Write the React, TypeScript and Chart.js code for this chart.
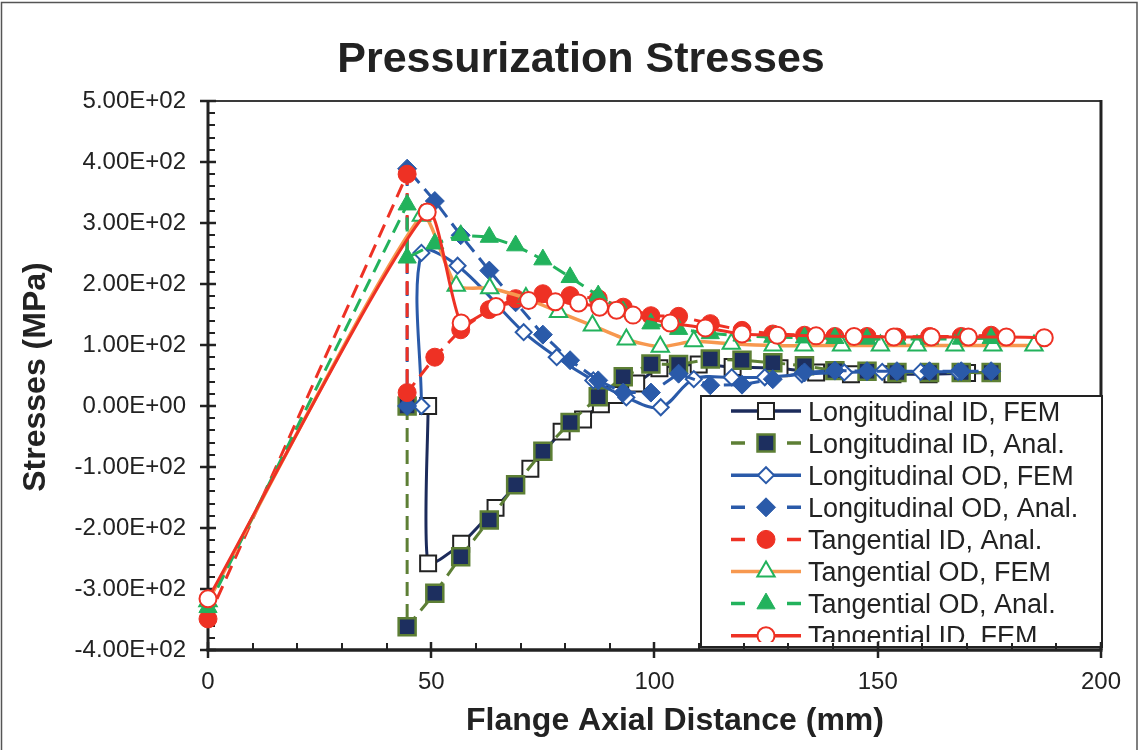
import React, { useEffect, useRef } from 'react';
import { Chart, registerables } from 'chart.js';

Chart.register(...registerables);

const FONT = '"Liberation Sans", Arial, Helvetica, sans-serif';

// Axis ranges (mm, MPa)
const xMin = 0;
const xMax = 200;
const xStep = 50;
const xMinorStep = 10;
const yMin = -400;
const yMax = 500;
const yStep = 100;
const yMinorStep = 20;

// Longitudinal ID, FEM
const longIdFemX = [49.3, 49.3, 56.7, 64.4, 72.2, 79.2, 84.0, 88.0, 91.0, 95.9, 101.1, 109.9, 117.5, 128.0, 136.2, 144.0, 153.3, 161.4, 170.0, 175.5];
const longIdFemY = [0, -258, -226, -167, -103, -42, -22, 3, 18, 37, 62, 68, 64, 62, 55, 52, 52, 52, 54, 55];

// Longitudinal ID, Anal.
const longIdAnaX = [44.6, 44.6, 50.8, 56.6, 63.0, 68.9, 75.0, 81.1, 87.4, 93.0, 99.2, 105.4, 112.5, 119.6, 126.5, 133.6, 140.4, 147.6, 154.3, 161.6, 168.7, 175.4];
const longIdAnaY = [0, -362, -307, -247, -187, -129, -74, -27, 15, 48, 69, 68, 77, 75, 71, 66, 58, 57, 55, 55, 55, 55];

// Longitudinal OD, FEM
const longOdFemX = [47.8, 47.8, 55.9, 70.7, 78.1, 86.3, 93.7, 101.4, 108.8, 117.3, 124.7, 133.0, 142.5, 151.0, 159.6, 168.0];
const longOdFemY = [0, 251, 230, 121, 80, 42, 14, -2, 44, 47, 47, 52, 55, 56, 56, 56];

// Longitudinal OD, Anal.
const longOdAnaX = [44.6, 44.6, 50.8, 56.6, 63.0, 68.9, 75.0, 81.1, 87.4, 93.0, 99.2, 105.4, 112.5, 119.6, 126.5, 133.6, 140.4, 147.6, 154.3, 161.6, 168.7, 175.4];
const longOdAnaY = [0, 389, 336, 280, 222, 170, 117, 75, 42, 22, 22, 53, 34, 35, 44, 55, 58, 57, 57, 57, 57, 57];

// Tangential ID, Anal.
const tangIdAnaX = [0, 44.6, 44.6, 50.8, 56.6, 63.0, 68.9, 75.0, 81.1, 87.4, 93.0, 99.2, 105.4, 112.5, 119.6, 126.5, 133.6, 140.4, 147.6, 154.3, 161.6, 168.7, 175.4];
const tangIdAnaY = [-349, 380, 22, 80, 125, 158, 176, 184, 181, 176, 162, 148, 147, 135, 124, 118, 116, 114, 114, 113, 114, 114, 116];

// Tangential OD, FEM
const tangOdFemX = [0, 47.8, 55.6, 63.1, 71.2, 78.5, 86.1, 93.7, 101.3, 108.8, 117.2, 126.6, 133.5, 141.9, 150.6, 158.8, 167.3, 175.8, 185.0];
const tangOdFemY = [-320, 312, 197, 193, 177, 154, 132, 109, 97, 106, 102, 99, 99, 99, 99, 99, 99, 99, 99];

// Tangential OD, Anal.
const tangOdAnaX = [0, 44.6, 44.6, 50.8, 56.6, 63.0, 68.9, 75.0, 81.1, 87.4, 93.0, 99.2, 105.4, 112.5, 119.6, 126.5, 133.6, 140.4, 147.6, 154.3, 161.6, 168.7, 175.4];
const tangOdAnaY = [-330, 330, 243, 266, 280, 277, 263, 240, 211, 181, 155, 135, 126, 119, 115, 113, 112, 111, 110, 110, 110, 110, 111];

// Tangential ID, FEM
const tangIdFemX = [0, 49.1, 56.7, 64.5, 71.8, 77.8, 83.0, 87.7, 91.5, 95.2, 103.5, 111.4, 119.6, 127.5, 136.2, 144.7, 153.6, 162.0, 170.3, 178.8, 187.3];
const tangIdFemY = [-316, 318, 136, 163, 173, 171, 169, 162, 157, 149, 136, 128, 118, 116, 115, 114, 113, 113, 113, 113, 112];

const NAVY = '#1c2b5b';
const NAVY_FILL = '#1d2f5f';
const OLIVE = '#5d7f35';
const BLUE = '#2a5aa9';
const RED = '#ee3124';
const ORANGE = '#f7984f';
const GREEN = '#22b25c';
const INK = '#222222';
const DASH = [14, 8];

const pts = (xs: number[], ys: number[]) => xs.map((x, i) => ({ x, y: ys[i] }));

const sci = (v: number) => {
  const [m, e] = v.toExponential(2).split('e');
  const n = parseInt(e, 10);
  return `${m}E${n < 0 ? '-' : '+'}${String(Math.abs(n)).padStart(2, '0')}`;
};

type Marker = 'circle' | 'rect' | 'rectRot' | 'triangle';

function drawMarker(
  ctx: CanvasRenderingContext2D,
  style: Marker,
  x: number,
  y: number,
  r: number,
  fill: string,
  stroke: string,
  lw: number
) {
  ctx.beginPath();
  if (style === 'circle') {
    ctx.arc(x, y, r, 0, Math.PI * 2);
  } else if (style === 'rect') {
    const s = r * Math.SQRT1_2;
    ctx.rect(x - s, y - s, 2 * s, 2 * s);
  } else if (style === 'rectRot') {
    ctx.moveTo(x - r, y);
    ctx.lineTo(x, y - r);
    ctx.lineTo(x + r, y);
    ctx.lineTo(x, y + r);
    ctx.closePath();
  } else {
    ctx.moveTo(x, y - r);
    ctx.lineTo(x + 0.866 * r, y + 0.5 * r);
    ctx.lineTo(x - 0.866 * r, y + 0.5 * r);
    ctx.closePath();
  }
  ctx.fillStyle = fill;
  ctx.fill();
  ctx.lineWidth = lw;
  ctx.strokeStyle = stroke;
  ctx.stroke();
}

const frame = {
  id: 'frame',
  beforeDraw(chart: any) {
    const { ctx, width, height } = chart;
    ctx.save();
    ctx.fillStyle = '#ffffff';
    ctx.fillRect(0, 0, width, height);
    ctx.restore();
  },
  beforeDatasetsDraw(chart: any) {
    const { ctx, chartArea: a, scales } = chart;
    const ys = scales.y;
    ctx.save();
    ctx.lineCap = 'butt';
    // plot area: top and right edges
    ctx.strokeStyle = '#3a3a3a';
    ctx.lineWidth = 2;
    ctx.beginPath();
    ctx.moveTo(a.left, a.top);
    ctx.lineTo(a.right, a.top);
    ctx.stroke();
    ctx.strokeStyle = INK;
    ctx.lineWidth = 3;
    ctx.beginPath();
    ctx.moveTo(a.right, a.top - 1);
    ctx.lineTo(a.right, a.bottom);
    ctx.stroke();
    // y axis line with ticks
    ctx.beginPath();
    ctx.moveTo(a.left, a.top - 1);
    ctx.lineTo(a.left, a.bottom);
    ctx.stroke();
    for (let v = yMin; v <= yMax; v += yMinorStep) {
      const py = Math.round(ys.getPixelForValue(v));
      const major = v % yStep === 0;
      ctx.lineWidth = major ? 2.5 : 2;
      ctx.beginPath();
      ctx.moveTo(major ? a.left - 8 : a.left, py);
      ctx.lineTo(a.left + (major ? 8 : 7), py);
      ctx.stroke();
    }
    ctx.restore();
  },
  afterDatasetsDraw(chart: any) {
    const { ctx, chartArea: a, scales } = chart;
    const xs = scales.x;

    // legend
    const box = { l: 701, t: 396, r: 1102, b: 647 };
    ctx.save();
    ctx.fillStyle = '#ffffff';
    ctx.fillRect(box.l, box.t, box.r - box.l, box.b - box.t);
    ctx.save();
    ctx.beginPath();
    ctx.rect(box.l, box.t, box.r - box.l, 246);
    ctx.clip();
    chart.data.datasets.forEach((ds: any, i: number) => {
      const cy = 411 + i * 32.1;
      ctx.strokeStyle = ds.borderColor;
      ctx.lineWidth = 3.5;
      ctx.setLineDash([]);
      ctx.beginPath();
      if (ds.borderDash && ds.borderDash.length) {
        ctx.moveTo(731, cy);
        ctx.lineTo(745, cy);
        ctx.moveTo(787, cy);
        ctx.lineTo(801, cy);
      } else {
        ctx.moveTo(731, cy);
        ctx.lineTo(801, cy);
      }
      ctx.stroke();
      drawMarker(ctx, ds.pointStyle, 766, cy, ds.pointRadius, ds.pointBackgroundColor, ds.pointBorderColor, ds.pointBorderWidth);
      ctx.fillStyle = INK;
      ctx.font = `27px ${FONT}`;
      ctx.textAlign = 'left';
      ctx.textBaseline = 'alphabetic';
      ctx.fillText(ds.label, 808, cy + 9.5);
    });
    ctx.restore();
    ctx.strokeStyle = INK;
    ctx.lineWidth = 2;
    ctx.strokeRect(box.l, box.t, box.r - box.l, box.b - box.t);

    // x axis line with ticks
    ctx.strokeStyle = INK;
    ctx.lineWidth = 3.5;
    ctx.beginPath();
    ctx.moveTo(a.left - 1.5, a.bottom);
    ctx.lineTo(a.right + 1.5, a.bottom);
    ctx.stroke();
    for (let v = xMin; v <= xMax; v += xMinorStep) {
      const px = Math.round(xs.getPixelForValue(v));
      const major = v % xStep === 0;
      ctx.lineWidth = major ? 2.5 : 2;
      ctx.beginPath();
      ctx.moveTo(px, a.bottom - (major ? 8 : 7));
      ctx.lineTo(px, major ? a.bottom + 8 : a.bottom);
      ctx.stroke();
    }
    ctx.restore();
  },
  afterDraw(chart: any) {
    const { ctx, width } = chart;
    ctx.save();
    ctx.fillStyle = INK;
    ctx.textAlign = 'center';
    ctx.textBaseline = 'alphabetic';
    ctx.font = `bold 43px ${FONT}`;
    ctx.fillText('Pressurization Stresses', 581, 72);
    ctx.font = `bold 32px ${FONT}`;
    ctx.fillText('Flange Axial Distance (mm)', 675, 730);
    ctx.save();
    ctx.translate(45, 377);
    ctx.rotate(-Math.PI / 2);
    ctx.fillText('Stresses (MPa)', 0, 0);
    ctx.restore();
    // outer frame
    ctx.strokeStyle = '#555555';
    ctx.lineWidth = 1.5;
    ctx.strokeRect(1.5, 2.5, width - 3.5, 800);
    ctx.restore();
  },
};

export default function App() {
  const canvasRef = useRef<HTMLCanvasElement | null>(null);

  useEffect(() => {
    const canvas = canvasRef.current;
    if (!canvas) return;

    const common = { clip: false as any, fill: false };

    const datasets = [
      {
        ...common,
        label: 'Longitudinal ID, FEM',
        data: pts(longIdFemX, longIdFemY),
        borderColor: NAVY,
        borderWidth: 3,
        tension: 0.2,
        pointStyle: 'rect',
        pointRadius: 11.3,
        pointBackgroundColor: '#ffffff',
        pointBorderColor: INK,
        pointBorderWidth: 2,
      },
      {
        ...common,
        label: 'Longitudinal ID, Anal.',
        data: pts(longIdAnaX, longIdAnaY),
        borderColor: OLIVE,
        borderWidth: 3,
        borderDash: DASH,
        tension: 0,
        pointStyle: 'rect',
        pointRadius: 12,
        pointBackgroundColor: NAVY_FILL,
        pointBorderColor: OLIVE,
        pointBorderWidth: 2.5,
      },
      {
        ...common,
        label: 'Longitudinal OD, FEM',
        data: pts(longOdFemX, longOdFemY),
        borderColor: BLUE,
        borderWidth: 3,
        tension: 0.35,
        pointStyle: 'rectRot',
        pointRadius: 8,
        pointBackgroundColor: '#ffffff',
        pointBorderColor: BLUE,
        pointBorderWidth: 2,
      },
      {
        ...common,
        label: 'Longitudinal OD, Anal.',
        data: pts(longOdAnaX, longOdAnaY),
        borderColor: BLUE,
        borderWidth: 3,
        borderDash: DASH,
        tension: 0,
        pointStyle: 'rectRot',
        pointRadius: 9.5,
        pointBackgroundColor: BLUE,
        pointBorderColor: BLUE,
        pointBorderWidth: 1,
      },
      {
        ...common,
        label: 'Tangential ID, Anal.',
        data: pts(tangIdAnaX, tangIdAnaY),
        borderColor: RED,
        borderWidth: 3,
        borderDash: DASH,
        tension: 0,
        pointStyle: 'circle',
        pointRadius: 9,
        pointBackgroundColor: RED,
        pointBorderColor: RED,
        pointBorderWidth: 1,
      },
      {
        ...common,
        label: 'Tangential OD, FEM',
        data: pts(tangOdFemX, tangOdFemY),
        borderColor: ORANGE,
        borderWidth: 3.5,
        tension: 0.2,
        pointStyle: 'triangle',
        pointRadius: 10,
        pointBackgroundColor: '#ffffff',
        pointBorderColor: GREEN,
        pointBorderWidth: 2,
      },
      {
        ...common,
        label: 'Tangential OD, Anal.',
        data: pts(tangOdAnaX, tangOdAnaY),
        borderColor: GREEN,
        borderWidth: 3,
        borderDash: DASH,
        tension: 0,
        pointStyle: 'triangle',
        pointRadius: 10.5,
        pointBackgroundColor: GREEN,
        pointBorderColor: GREEN,
        pointBorderWidth: 1,
      },
      {
        ...common,
        label: 'Tangential ID, FEM',
        data: pts(tangIdFemX, tangIdFemY),
        borderColor: RED,
        borderWidth: 3,
        tension: 0.2,
        pointStyle: 'circle',
        pointRadius: 8.5,
        pointBackgroundColor: '#ffffff',
        pointBorderColor: RED,
        pointBorderWidth: 2,
      },
    ].map((ds, i) => ({ ...ds, order: -i }));

    const chart = new Chart(canvas, {
      type: 'line',
      data: { datasets: datasets as any },
      options: {
        responsive: false,
        animation: false,
        devicePixelRatio: 1,
        events: [],
        layout: { padding: { left: 0, right: 30, top: 101, bottom: 0 } },
        plugins: {
          legend: { display: false },
          title: { display: false },
          tooltip: { enabled: false },
        },
        scales: {
          x: {
            type: 'linear',
            min: xMin,
            max: xMax,
            grid: { display: false, drawTicks: false },
            border: { display: false },
            ticks: {
              stepSize: xStep,
              padding: 18,
              color: INK,
              font: { family: FONT, size: 24 },
              maxRotation: 0,
              callback: (v: any) => String(v),
            },
            afterFit: (s: any) => {
              s.height = 100;
            },
          },
          y: {
            type: 'linear',
            min: yMin,
            max: yMax,
            grid: { display: false, drawTicks: false },
            border: { display: false },
            ticks: {
              stepSize: yStep,
              padding: 22,
              color: INK,
              font: { family: FONT, size: 24 },
              callback: (v: any) => sci(Number(v)),
            },
            afterFit: (s: any) => {
              s.width = 208;
            },
          },
        },
      },
      plugins: [frame],
    });

    return () => chart.destroy();
  }, []);

  return (
    <div style={{ position: 'fixed', left: 0, top: 0, width: 1139, height: 750, background: '#fff' }}>
      <canvas ref={canvasRef} width={1139} height={750} style={{ display: 'block' }} />
    </div>
  );
}
